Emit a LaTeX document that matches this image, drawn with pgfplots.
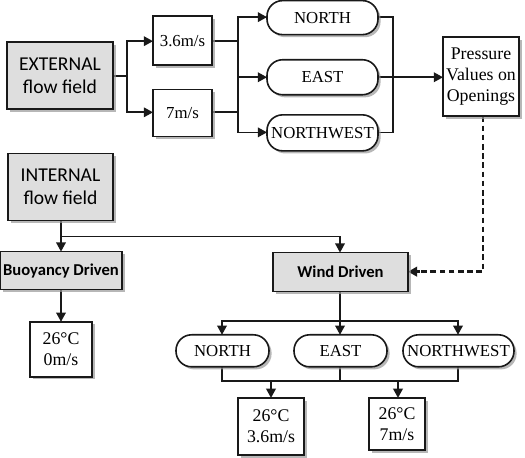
\documentclass[border=0pt]{standalone}
\usepackage{pgfplots}
\pgfplotsset{compat=1.18}
\usepackage{fontspec}
\setmainfont{Liberation Serif}
\newfontfamily\carlito{Carlito}
\usetikzlibrary{arrows.meta,shadows}

% 1 px of the reference = 0.5pt
\tikzset{
  bx/.style 2 args={draw=black!90, line width=0.8pt, fill=white, inner sep=0pt, outer sep=0pt,
    minimum width=#1*0.5pt, minimum height=#2*0.5pt, align=center,
    drop shadow={shadow xshift=1.3pt, shadow yshift=-1.3pt, fill=black!40, opacity=0.7}},
  gbx/.style 2 args={bx={#1}{#2}, fill=black!13},
  pill/.style 2 args={bx={#1}{#2}, rounded corners=7.8pt},
  ser/.style={font=\fontsize{8.4}{9.8}\selectfont},
  sans/.style={font=\carlito\fontsize{9.8}{11.6}\selectfont},
  sansb/.style={font=\carlito\bfseries\fontsize{8.3}{10}\selectfont},
}
\pgfplotsset{
  con/.style={black!90, line width=0.85pt, mark=none},
  arr/.style={con, -{Triangle[length=4.6pt,width=4.8pt]}},
}

\begin{document}
\begin{tikzpicture}
\begin{axis}[
  width=262.5pt, height=228.5pt, scale only axis,
  xmin=0, xmax=525, ymin=0, ymax=457, y dir=reverse,
  axis lines=none, clip=false,
]
% external branch
\addplot[con] coordinates {(113,77) (127,77)};
\addplot[arr] coordinates {(127,77) (127,42) (153,42)};
\addplot[arr] coordinates {(127,77) (127,113) (153,113)};
\addplot[con] coordinates {(212,42) (238,42)};
\addplot[con] coordinates {(212,113) (238,113)};
\addplot[arr] coordinates {(238,78) (238,18) (267,18)};
\addplot[arr] coordinates {(238,78) (267,78)};
\addplot[arr] coordinates {(238,78) (238,133) (267,133)};
\addplot[con] coordinates {(378,18) (393,18) (393,133) (378,133)};
\addplot[arr] coordinates {(378,78) (443,78)};
\addplot[con, line width=1.4pt, dash pattern=on 2.8pt off 1.8pt] coordinates {(483,117) (483,272) (417,272)};
\addplot[arr, line width=1.4pt] coordinates {(420,272) (408,272)};
% internal branch
\addplot[arr] coordinates {(61,221) (61,252)};
\addplot[arr] coordinates {(61,237) (340,237) (340,253)};
\addplot[arr] coordinates {(61,290) (61,322)};
\addplot[arr] coordinates {(340,292) (340,335)};
\addplot[arr] coordinates {(340,321) (222,321) (222,335)};
\addplot[arr] coordinates {(340,321) (458,321) (458,335)};
\addplot[con] coordinates {(222,367) (222,381) (458,381) (458,367)};
\addplot[con] coordinates {(340,367) (340,381)};
\addplot[arr] coordinates {(271,381) (271,398)};
\addplot[arr] coordinates {(398,381) (398,398)};

% boxes
\node[gbx={106}{67}, sans] at (axis cs:60,76.5) {EXTERNAL\\flow field};
\node[bx={59}{49}, ser] at (axis cs:182.5,41.5) {3.6m/s};
\node[bx={59}{47}, ser] at (axis cs:182.5,113.5) {7m/s};
\node[pill={111}{34}, ser] at (axis cs:322.5,18.5) {NORTH};
\node[pill={111}{35}, ser] at (axis cs:322.5,78) {EAST};
\node[pill={111}{36}, ser] at (axis cs:322.5,133.5) {NORTHWEST};
\node[bx={76}{79}, ser, font=\fontsize{8.9}{10.6}\selectfont] at (axis cs:481,77.5) {Pressure\\Values on\\Openings};
\node[gbx={105}{67}, sans] at (axis cs:60.5,187.5) {INTERNAL\\flow field};
\node[gbx={122}{38}, sansb] at (axis cs:61,271) {Buoyancy Driven};
\node[bx={62}{55}, ser, font=\fontsize{8.9}{10.6}\selectfont] at (axis cs:61,349.5) {26°C\\0m/s};
\node[gbx={135}{39}, sansb] at (axis cs:340.5,272.5) {Wind Driven};
\node[pill={93}{32}, ser] at (axis cs:222.5,351) {NORTH};
\node[pill={93}{32}, ser] at (axis cs:340.5,351) {EAST};
\node[pill={111}{32}, ser] at (axis cs:458.5,351) {NORTHWEST};
\node[bx={66}{57}, ser, font=\fontsize{8.9}{10.6}\selectfont] at (axis cs:271,426.5) {26°C\\3.6m/s};
\node[bx={56}{52}, ser, font=\fontsize{8.9}{10.6}\selectfont] at (axis cs:397,424) {26°C\\7m/s};
\end{axis}
\pgfresetboundingbox
\path (0,0) rectangle (262.5pt,228.5pt);
\end{tikzpicture}
\end{document}
